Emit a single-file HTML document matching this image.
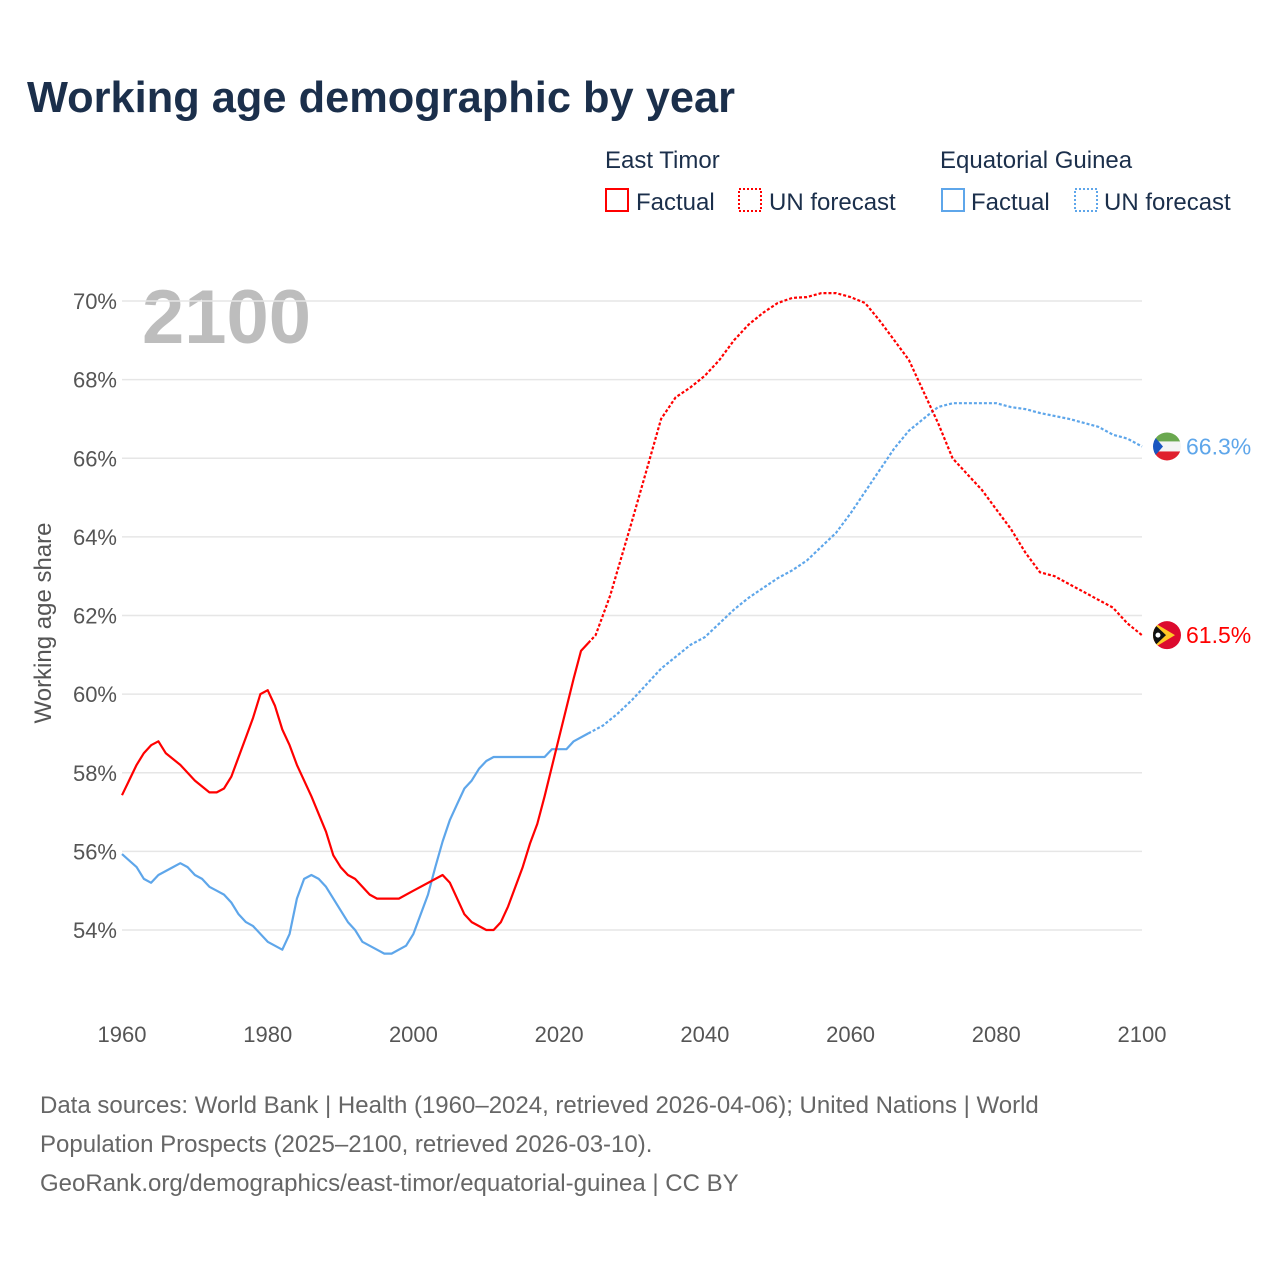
<!DOCTYPE html>
<html><head><meta charset="utf-8"><style>
body{margin:0;background:#fff;width:1280px;height:1280px;overflow:hidden;font-family:"Liberation Sans",sans-serif}
</style></head><body>
<svg id="chart" width="1280" height="1280" xmlns="http://www.w3.org/2000/svg">
<text x="27" y="112" font-size="44" font-weight="bold" fill="#1b2f4b" textLength="708" lengthAdjust="spacingAndGlyphs">Working age demographic by year</text>
<g font-size="24" fill="#1b2f4b">
<text x="605" y="168">East Timor</text>
<rect x="606" y="189" width="22" height="22" fill="none" stroke="#f00" stroke-width="2"/>
<text x="636" y="210">Factual</text>
<rect x="739" y="189" width="22" height="22" fill="none" stroke="#f00" stroke-width="2" stroke-dasharray="2,2"/>
<text x="769" y="210">UN forecast</text>
<text x="940" y="168">Equatorial Guinea</text>
<rect x="942" y="189" width="22" height="22" fill="none" stroke="#5ea6ea" stroke-width="2"/>
<text x="971" y="210">Factual</text>
<rect x="1075" y="189" width="22" height="22" fill="none" stroke="#5ea6ea" stroke-width="2" stroke-dasharray="2,2"/>
<text x="1104" y="210">UN forecast</text>
</g>
<text x="142" y="343" font-size="76" font-weight="bold" fill="#bdbdbd">2100</text>
<text transform="translate(51,623) rotate(-90)" text-anchor="middle" font-size="24" fill="#555">Working age share</text>
<g id="grid"></g><g id="yt"></g><g id="xt"></g><g id="lines"></g><g id="ends"></g>
<g font-size="24" fill="#666">
<text x="40" y="1113">Data sources: World Bank | Health (1960–2024, retrieved 2026-04-06); United Nations | World</text>
<text x="40" y="1152">Population Prospects (2025–2100, retrieved 2026-03-10).</text>
<text x="40" y="1191">GeoRank.org/demographics/east-timor/equatorial-guinea | CC BY</text>
</g>
</svg>
<script>
const yTicks=[54,56,58,60,62,64,66,68,70];
const xTicks=[1960,1980,2000,2020,2040,2060,2080,2100];
const etFactYears=[1960,1962,1963,1964,1965,1966,1968,1970,1972,1973,1974,1975,1977,1978,1979,1980,1981,1982,1983,1984,1986,1988,1989,1990,1991,1992,1993,1994,1995,1998,2000,2004,2005,2007,2008,2010,2011,2012,2013,2015,2016,2017,2018,2020,2022,2023,2024];
const etFactVals=[57.43,58.2,58.5,58.7,58.8,58.5,58.2,57.8,57.5,57.5,57.6,57.9,58.9,59.4,60.0,60.1,59.7,59.1,58.7,58.2,57.4,56.5,55.9,55.6,55.4,55.3,55.1,54.9,54.8,54.8,55.0,55.4,55.2,54.4,54.2,54.0,54.0,54.2,54.6,55.6,56.2,56.7,57.4,58.9,60.4,61.1,61.3];
const etFcYears=[2024,2025,2027,2030,2032,2034,2036,2038,2040,2042,2044,2046,2048,2050,2052,2054,2056,2058,2060,2062,2064,2066,2068,2070,2072,2074,2076,2078,2080,2082,2084,2086,2088,2090,2092,2094,2096,2098,2100];
const etFcVals=[61.3,61.5,62.5,64.4,65.7,67.0,67.55,67.8,68.1,68.5,69.0,69.4,69.7,69.95,70.08,70.1,70.2,70.2,70.1,69.95,69.5,69.0,68.5,67.7,66.9,66.0,65.6,65.2,64.7,64.2,63.6,63.1,63.0,62.8,62.6,62.4,62.2,61.8,61.5];
const egFactYears=[1960,1962,1963,1964,1965,1967,1968,1969,1970,1971,1972,1973,1974,1975,1976,1977,1978,1980,1982,1983,1984,1985,1986,1987,1988,1989,1990,1991,1992,1993,1995,1996,1997,1999,2000,2002,2003,2004,2005,2006,2007,2008,2009,2010,2011,2018,2019,2021,2022,2024];
const egFactVals=[55.93,55.6,55.3,55.2,55.4,55.6,55.7,55.6,55.4,55.3,55.1,55.0,54.9,54.7,54.4,54.2,54.1,53.7,53.5,53.9,54.8,55.3,55.4,55.3,55.1,54.8,54.5,54.2,54.0,53.7,53.5,53.4,53.4,53.6,53.9,54.9,55.6,56.25,56.8,57.2,57.6,57.8,58.1,58.3,58.4,58.4,58.6,58.6,58.8,59.0];
const egFcYears=[2024,2026,2028,2030,2032,2034,2036,2038,2040,2042,2044,2046,2048,2050,2052,2054,2056,2058,2060,2062,2064,2066,2068,2070,2072,2074,2080,2082,2084,2086,2090,2094,2096,2098,2100];
const egFcVals=[59.0,59.2,59.5,59.85,60.25,60.65,60.95,61.25,61.45,61.8,62.15,62.45,62.7,62.95,63.15,63.4,63.75,64.1,64.6,65.15,65.7,66.25,66.7,67.0,67.3,67.4,67.4,67.3,67.25,67.15,67.0,66.8,66.6,66.5,66.3];
const NS='http://www.w3.org/2000/svg';
const X=y=>122+(y-1960)*(1020/140);
const Y=v=>301+(70-v)*(629/16);
function mk(t,a,p){const e=document.createElementNS(NS,t);for(const k in a)e.setAttribute(k,a[k]);document.getElementById(p).appendChild(e);return e;}
yTicks.forEach(v=>{
 const l=mk('line',{x1:122,x2:1142,y1:Y(v),y2:Y(v),stroke:'#e6e6e6','stroke-width':1.5},'grid');
 
 
 const t=mk('text',{x:117,y:Y(v)+8,'text-anchor':'end','font-size':22,fill:'#555'},'yt');
 t.textContent=v+'%';
 
 
});
xTicks.forEach(v=>{
 const t=mk('text',{x:X(v),y:1042,'text-anchor':'middle','font-size':22,fill:'#555'},'xt');
 t.textContent=v;
 
 
});
function line(ys,vs,col,dash,name){
 const d=ys.map((y,i)=>(i?'L':'M')+X(y).toFixed(1)+','+Y(vs[i]).toFixed(1)).join('');
 const p=mk('path',{d:d,fill:'none',stroke:col,'stroke-width':2.2,'stroke-linejoin':'round'},'lines');
 if(dash)p.setAttribute('stroke-dasharray','3,2');
 
 
}
line(egFactYears,egFactVals,'#5ea6ea',false,'eq-guinea-factual-line');
line(egFcYears,egFcVals,'#5ea6ea',true,'eq-guinea-forecast-line');
line(etFactYears,etFactVals,'#f00',false,'east-timor-factual-line');
line(etFcYears,etFcVals,'#f00',true,'east-timor-forecast-line');
const egEnd=egFcVals[egFcVals.length-1], etEnd=etFcVals[etFcVals.length-1];
const ends=document.getElementById('ends');
ends.innerHTML=
`<g><clipPath id="c1"><circle cx="1167" cy="${Y(egEnd)}" r="14"/></clipPath><g clip-path="url(#c1)">
<rect x="1150" y="${Y(egEnd)-15}" width="34" height="10" fill="#6aa84f"/><rect x="1150" y="${Y(egEnd)-5}" width="34" height="10" fill="#f4f4f4"/><rect x="1150" y="${Y(egEnd)+5}" width="34" height="10" fill="#e0202e"/>
<polygon points="1150,${Y(egEnd)-15} 1163,${Y(egEnd)} 1150,${Y(egEnd)+15}" fill="#1a56c0"/></g></g>
<g><clipPath id="c2"><circle cx="1167" cy="${Y(etEnd)}" r="14"/></clipPath><g clip-path="url(#c2)">
<rect x="1150" y="${Y(etEnd)-15}" width="34" height="30" fill="#dc0a2e"/>
<polygon points="1150,${Y(etEnd)-15} 1175,${Y(etEnd)} 1150,${Y(etEnd)+15}" fill="#ffc726"/>
<polygon points="1150,${Y(etEnd)-15} 1166,${Y(etEnd)} 1150,${Y(etEnd)+15}" fill="#111"/>
<circle cx="1158" cy="${Y(etEnd)}" r="2.5" fill="#fff"/></g></g>`;
const t1=mk('text',{x:1186,y:Y(egEnd)+8,'font-size':23,fill:'#5ea6ea'},'ends');
t1.textContent=egEnd.toFixed(1)+'%';


const t2=mk('text',{x:1186,y:Y(etEnd)+8,'font-size':23,fill:'#f00'},'ends');
t2.textContent=etEnd.toFixed(1)+'%';


</script>
</body></html>
